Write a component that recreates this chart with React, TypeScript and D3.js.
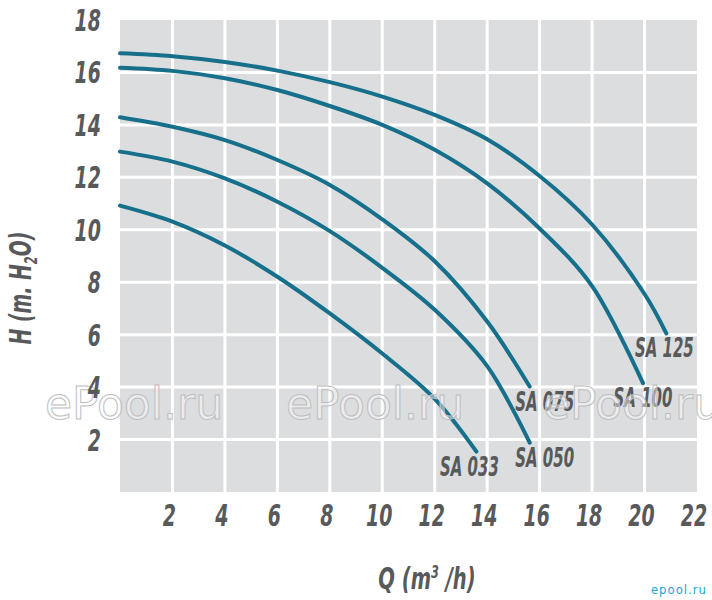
import { useEffect } from 'react';
import * as d3 from 'd3';

// Pump curves, Q (m3/h) vs H (m H2O)
const flowSA125 = [0, 2, 4, 6, 8, 10, 12, 14, 16, 18, 20, 20.83];
const headSA125 = [16.73, 16.62, 16.4, 16.07, 15.63, 15.08, 14.38, 13.45, 12.05, 10.2, 7.55, 6.05];

const flowSA100 = [0, 2, 4, 6, 8, 10, 12, 14, 16, 18, 19.94];
const headSA100 = [16.18, 16.06, 15.78, 15.33, 14.72, 14.0, 13.05, 11.77, 10.05, 7.85, 4.15];

const flowSA075 = [0, 2, 4, 6, 8, 10, 12, 14, 15.62];
const headSA075 = [14.29, 13.93, 13.42, 12.66, 11.71, 10.4, 8.8, 6.5, 4.02];

const flowSA050 = [0, 2, 4, 6, 8, 10, 12, 14, 15.62];
const headSA050 = [12.98, 12.6, 11.96, 11.07, 9.95, 8.55, 6.95, 4.8, 1.88];

const flowSA033 = [0, 2, 4, 6, 8, 10, 12, 13.59];
const headSA033 = [10.92, 10.31, 9.4, 8.21, 6.81, 5.28, 3.55, 1.54];

const seriesNames = ['SA 125', 'SA 100', 'SA 075', 'SA 050', 'SA 033'];
const xTicks = [2, 4, 6, 8, 10, 12, 14, 16, 18, 20, 22];
const yTicks = [2, 4, 6, 8, 10, 12, 14, 16, 18];

const LINE = '#17708b';
const TEXT = '#58595b';
const CELL = '#dcdddf';
const FONT = '"Liberation Sans Narrow", "DejaVu Sans Condensed", sans-serif';

export default function App() {
  useEffect(() => {
    document.body.style.margin = '0';
  }, []);

  const x = d3.scaleLinear().domain([0, 22]).range([120, 697]);
  const y = d3.scaleLinear().domain([0, 18]).range([492, 20]);

  const series = [
    { name: seriesNames[0], q: flowSA125, h: headSA125 },
    { name: seriesNames[1], q: flowSA100, h: headSA100 },
    { name: seriesNames[2], q: flowSA075, h: headSA075 },
    { name: seriesNames[3], q: flowSA050, h: headSA050 },
    { name: seriesNames[4], q: flowSA033, h: headSA033 },
  ];
  // label shift from the curve end (px)
  const labelShift = [-2, 0, 15, 15, -7];

  const line = d3
    .line<[number, number]>()
    .x((d) => x(d[0]))
    .y((d) => y(d[1]))
    .curve(d3.curveCatmullRom.alpha(0.5));

  const watermark = (cx: number) => (
    <text
      x={cx}
      y={419}
      textAnchor="middle"
      fontFamily='"DejaVu Sans", sans-serif'
      fontSize={44}
      fill="rgba(255,255,255,0.45)"
      stroke="#bdbec0"
      strokeWidth={1}
    >
      ePool.ru
    </text>
  );

  const tickText = (key: string, tx: number, ty: number, anchor: string, label: number) => (
    <text
      key={key}
      transform={`translate(${tx},${ty}) scale(0.68,1)`}
      textAnchor={anchor}
      fontFamily={FONT}
      fontWeight="bold"
      fontStyle="italic"
      fontSize={31}
      fill={TEXT}
    >
      {label}
    </text>
  );

  return (
    <svg width={712} height={600} style={{ display: 'block', background: '#fff' }}>
      <rect x={x(0)} y={y(18)} width={x(22) - x(0)} height={y(0) - y(18)} fill={CELL} />
      {xTicks.slice(0, -1).map((t) => (
        <line key={'gx' + t} x1={x(t)} x2={x(t)} y1={y(18)} y2={y(0)} stroke="#fff" strokeWidth={3} />
      ))}
      {yTicks.slice(0, -1).map((t) => (
        <line key={'gy' + t} x1={x(0)} x2={x(22)} y1={y(t)} y2={y(t)} stroke="#fff" strokeWidth={3} />
      ))}

      {series.map((s) => (
        <path
          key={s.name}
          d={line(s.q.map((q, i) => [q, s.h[i]] as [number, number])) || ''}
          fill="none"
          stroke={LINE}
          strokeWidth={4}
          strokeLinecap="round"
        />
      ))}

      {series.map((s, i) => {
        const n = s.q.length - 1;
        const lx = x(s.q[n]) + labelShift[i];
        const ly = y(s.h[n]) + 24;
        return (
          <text
            key={'l' + s.name}
            transform={`translate(${lx},${ly}) scale(0.64,1)`}
            textAnchor="middle"
            fontFamily={FONT}
            fontWeight="bold"
            fontStyle="italic"
            fontSize={26}
            fill={TEXT}
          >
            {s.name}
          </text>
        );
      })}

      {watermark(134)}
      {watermark(375)}
      {watermark(632)}

      {yTicks.map((t) => tickText('ty' + t, 101, y(t) + 11, 'end', t))}
      {xTicks.map((t) => tickText('tx' + t, x(t) - 3, 526, 'middle', t))}

      <text
        transform="translate(31,288) rotate(-90) scale(0.7,1)"
        textAnchor="middle"
        fontFamily={FONT}
        fontWeight="bold"
        fontStyle="italic"
        fontSize={30}
        fill={TEXT}
      >
        H (m. H<tspan fontSize={18} dy={6}>2</tspan>
        <tspan dy={-6}>O)</tspan>
      </text>
      <text
        transform="translate(427,589) scale(0.7,1)"
        textAnchor="middle"
        fontFamily={FONT}
        fontWeight="bold"
        fontStyle="italic"
        fontSize={31}
        fill={TEXT}
      >
        Q (m<tspan fontSize={18} dy={-11}>3</tspan>
        <tspan dy={11}> /h)</tspan>
      </text>

      <text
        x={707}
        y={594}
        textAnchor="end"
        fontFamily='"DejaVu Sans Condensed", sans-serif'
        fontSize={13}
        letterSpacing={1}
        fill="#1ba6d6"
      >
        epool.ru
      </text>
    </svg>
  );
}
